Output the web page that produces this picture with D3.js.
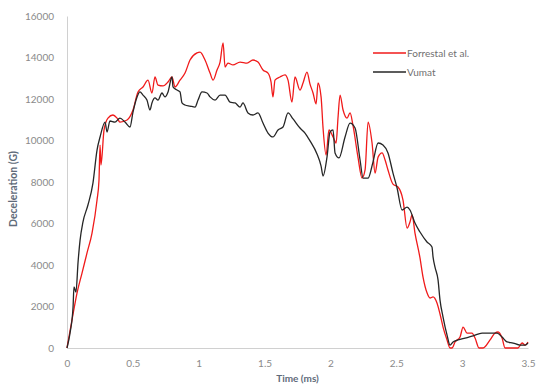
<!DOCTYPE html>
<html>
<head>
<meta charset="utf-8">
<script src="https://cdn.jsdelivr.net/npm/d3@7/dist/d3.min.js"></script>
<style>
  body { margin: 0; background: #fff; }
  svg text { font-family: Lato, "Open Sans", sans-serif; }
</style>
</head>
<body>
<div id="chart"></div>
<script>
// tick values
const xTicks = [0, 0.5, 1, 1.5, 2, 2.5, 3, 3.5];
const yTicks = [0, 2000, 4000, 6000, 8000, 10000, 12000, 14000, 16000];

const seriesNames = ["Forrestal et al.", "Vumat"];

// Forrestal et al. (time in ms, deceleration in G)
const forrestalTime = [0, 0.038, 0.076, 0.114, 0.152, 0.19, 0.228, 0.243, 0.251, 0.258, 0.281, 0.311, 0.349, 0.38, 0.402, 0.456,
  0.501, 0.539, 0.577, 0.615, 0.645, 0.668, 0.691, 0.729, 0.767, 0.797, 0.82, 0.858, 0.896, 0.934, 0.987,
  1.01, 1.048, 1.086, 1.109, 1.139, 1.162, 1.185, 1.2, 1.222, 1.26, 1.314, 1.367, 1.412, 1.45, 1.488,
  1.526, 1.549, 1.564, 1.579, 1.617, 1.655, 1.678, 1.708, 1.731, 1.769, 1.792, 1.822, 1.845, 1.868, 1.891,
  1.906, 1.929, 1.944, 1.967, 1.989, 2.02, 2.043, 2.058, 2.073, 2.096, 2.126, 2.149, 2.172, 2.21, 2.24,
  2.263, 2.286, 2.316, 2.339, 2.362, 2.392, 2.415, 2.437, 2.475, 2.513, 2.551, 2.582, 2.604, 2.62, 2.642,
  2.68, 2.703, 2.734, 2.756, 2.779, 2.809, 2.832, 2.855, 2.885, 2.908, 2.923, 2.946, 2.984, 3.007, 3.037,
  3.075, 3.098, 3.128, 3.159, 3.212, 3.25, 3.273, 3.303, 3.326, 3.424, 3.455, 3.478, 3.5];
const forrestalG = [0, 1350, 2650, 3610, 4580, 5540, 7130, 8100, 9780, 8820, 10500, 11080, 11230, 11080, 10890, 10990,
  11470, 12340, 12580, 12910, 12290, 13060, 12670, 12630, 12820, 13060, 12580, 12910, 13250, 13880, 14220,
  14260, 13880, 13250, 12910, 13400, 13780, 14700, 13540, 13730, 13640, 13780, 13730, 13880, 13780, 13400,
  13250, 12820, 12100, 12910, 13060, 13160, 12910, 11850, 13060, 12430, 12770, 13300, 12720, 12290, 11760,
  12770, 12100, 10600, 9300, 10510, 10170, 9880, 11130, 12190, 11470, 11080, 11330, 10700, 9160, 8190,
  8580, 10890, 9880, 8430, 9200, 9400, 9060, 8580, 7900, 7760, 7130, 5780, 6070, 6410, 5540,
  4340, 3420, 2650, 2410, 2460, 2170, 1640, 1010, 390, 0, 0, 290, 530, 1010, 720,
  720, 480, 0, 0, 390, 720, 770, 480, 0, 0, 240, 140, 290];

// Vumat
const vumatTime = [0, 0.023, 0.046, 0.053, 0.068, 0.084, 0.099, 0.121, 0.159, 0.197, 0.228, 0.251, 0.289, 0.304, 0.326,
  0.364, 0.402, 0.44, 0.478, 0.501, 0.532, 0.554, 0.577, 0.607, 0.63, 0.645, 0.668, 0.691, 0.721, 0.744,
  0.767, 0.797, 0.805, 0.835, 0.858, 0.873, 0.896, 0.934, 0.972, 0.995, 1.025, 1.063, 1.086, 1.124, 1.162,
  1.2, 1.238, 1.276, 1.314, 1.336, 1.374, 1.412, 1.45, 1.488, 1.526, 1.564, 1.602, 1.64, 1.678, 1.716,
  1.769, 1.807, 1.845, 1.898, 1.929, 1.944, 1.974, 1.997, 2.02, 2.035, 2.065, 2.111, 2.149, 2.187, 2.225,
  2.248, 2.286, 2.323, 2.362, 2.399, 2.437, 2.475, 2.506, 2.544, 2.582, 2.604, 2.642, 2.68, 2.733, 2.771,
  2.779, 2.794, 2.817, 2.832, 2.855, 2.885, 2.908, 2.931, 2.969, 3.022, 3.083, 3.151, 3.212, 3.265, 3.303,
  3.341, 3.387, 3.44, 3.478, 3.5];
const vumatG = [0, 720, 1980, 2940, 2700, 4140, 5190, 6070, 6890, 7950, 9540, 10170, 10890, 10410, 10940,
  10890, 11080, 10890, 10650, 11370, 12100, 12340, 12190, 11950, 11470, 11810, 12050, 11950, 12290, 12100,
  12340, 13060, 12580, 12430, 12340, 11810, 11710, 11660, 11610, 11950, 12340, 12290, 12100, 11950, 12190,
  12190, 11850, 11810, 11610, 11810, 11330, 11230, 11330, 10840, 10360, 10170, 10510, 10650, 11330, 11040,
  10600, 10360, 9980, 9350, 8770, 8290, 9200, 10410, 10510, 9400, 9160, 10170, 10840, 10600, 9060,
  8190, 8190, 8960, 9880, 9780, 9400, 8430, 7710, 6650, 6790, 6650, 6020, 5590, 5110, 4870,
  4390, 3900, 3280, 2310, 1490, 630, 140, 290, 390, 480, 580, 720, 720, 720, 530,
  290, 240, 140, 140, 240];

const width = 536, height = 387;
const margin = { top: 16, right: 8, bottom: 39, left: 67 };

const svg = d3.select("#chart").append("svg")
  .attr("width", width)
  .attr("height", height);

const x = d3.scaleLinear()
  .domain([0, 3.5])
  .range([margin.left, width - margin.right]);
const y = d3.scaleLinear()
  .domain([0, 16000])
  .range([height - margin.bottom, margin.top]);

// y axis
const yAxis = svg.append("g")
  .attr("transform", `translate(${margin.left},0)`)
  .call(d3.axisLeft(y).tickValues(yTicks).tickSize(0).tickPadding(13).tickFormat(d3.format("d")));
yAxis.select(".domain").attr("stroke", "#d0d0d0");
yAxis.selectAll("text").attr("fill", "#8a8a8a").attr("font-size", 10);

// x axis
const xAxis = svg.append("g")
  .attr("transform", `translate(0,${height - margin.bottom})`)
  .call(d3.axisBottom(x).tickValues(xTicks).tickSize(0).tickPadding(12).tickFormat(d => String(d)));
xAxis.select(".domain").attr("stroke", "#d0d0d0");
xAxis.selectAll("text").attr("fill", "#8a8a8a").attr("font-size", 10);

// axis titles
svg.append("text")
  .attr("x", (x(0) + x(3.5)) / 2)
  .attr("y", 382)
  .attr("text-anchor", "middle")
  .attr("font-size", 10)
  .attr("font-weight", "bold")
  .attr("fill", "#5f6b7a")
  .text("Time (ms)");

svg.append("text")
  .attr("transform", "translate(17,189) rotate(-90)")
  .attr("text-anchor", "middle")
  .attr("font-size", 10.5)
  .attr("font-weight", "bold")
  .attr("fill", "#5f6b7a")
  .text("Deceleration  (G)");

const line = d3.line()
  .curve(d3.curveMonotoneX)
  .x(d => x(d[0]))
  .y(d => y(d[1]));

const series = [
  { name: seriesNames[0], color: "#f01a1a", pts: d3.zip(forrestalTime, forrestalG) },
  { name: seriesNames[1], color: "#262626", pts: d3.zip(vumatTime, vumatG) }
];

svg.selectAll("path.series")
  .data(series)
  .enter().append("path")
  .attr("class", "series")
  .attr("d", d => line(d.pts))
  .attr("fill", "none")
  .attr("stroke", d => d.color)
  .attr("stroke-width", 1.3)
  .attr("stroke-linejoin", "round");

// legend
const legend = svg.append("g").attr("transform", "translate(373,53)");
const item = legend.selectAll("g")
  .data(series)
  .enter().append("g")
  .attr("transform", (d, i) => `translate(0,${i * 19})`);
item.append("line")
  .attr("x1", 0).attr("x2", 33)
  .attr("stroke", d => d.color)
  .attr("stroke-width", 1.5);
item.append("text")
  .attr("x", 34)
  .attr("dy", "0.35em")
  .attr("font-size", 10)
  .attr("fill", "#707070")
  .text(d => d.name);
</script>
</body>
</html>
